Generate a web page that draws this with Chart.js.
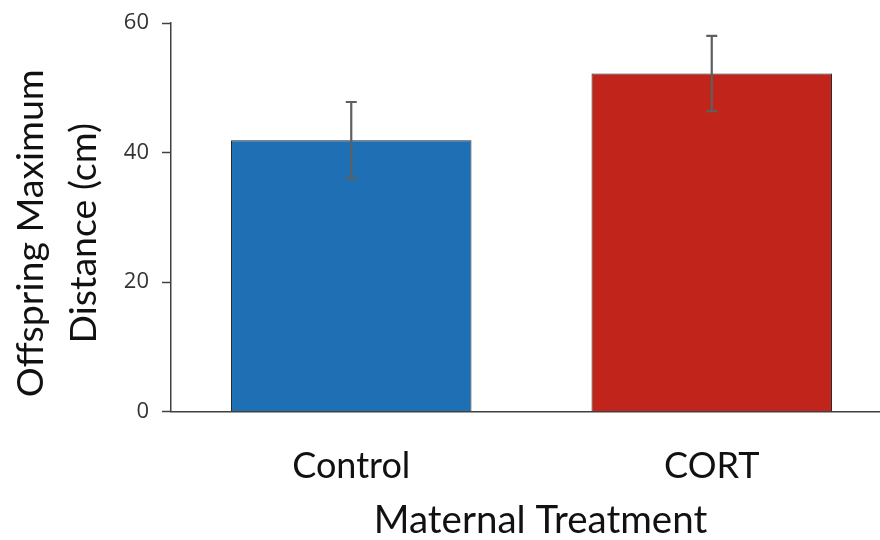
<!DOCTYPE html>
<html>
<head>
<meta charset="utf-8">
<script src="https://cdn.jsdelivr.net/npm/chart.js@4.4.1/dist/chart.umd.min.js"></script>
<style>
  html, body { margin: 0; padding: 0; background: #fff; overflow: hidden; }
  #wrap { width: 892px; height: 540px; }
</style>
</head>
<body>
<div id="wrap"><canvas id="chart"></canvas></div>
<script>
// --- donnees ---
const categories = ['Control', 'CORT'];
const moyennes = [41.9, 52.2];
const erreurs = [5.9, 5.8];
const couleurs = ['#1f6fb4', '#c0241a'];
const yTicks = [0, 20, 40, 60];
const yTitre = ['Offspring Maximum', 'Distance (cm)'];
const xTitre = 'Maternal Treatment';

// barres d'erreur
const errorBars = {
  id: 'errorBars',
  afterDatasetsDraw(chart) {
    const ctx = chart.ctx;
    const y = chart.scales.y;
    const meta = chart.getDatasetMeta(0);
    ctx.save();
    ctx.strokeStyle = '#5f5f5f';
    ctx.lineWidth = 2.2;
    meta.data.forEach((bar, i) => {
      const x = bar.x;
      const hi = y.getPixelForValue(moyennes[i] + erreurs[i]);
      const lo = y.getPixelForValue(moyennes[i] - erreurs[i]);
      ctx.beginPath();
      ctx.moveTo(x, hi); ctx.lineTo(x, lo);
      ctx.moveTo(x - 5.5, hi); ctx.lineTo(x + 5.5, hi);
      ctx.moveTo(x - 5.5, lo); ctx.lineTo(x + 5.5, lo);
      ctx.stroke();
    });
    ctx.restore();
  }
};

// titres des axes
const axisTitles = {
  id: 'axisTitles',
  afterDraw(chart) {
    const ctx = chart.ctx;
    const area = chart.chartArea;
    ctx.save();
    ctx.fillStyle = '#111';
    ctx.textAlign = 'center';
    ctx.textBaseline = 'alphabetic';
    // titre Y
    ctx.font = '37.5px Lato';
    ctx.save();
    ctx.translate(0, (area.top + area.bottom) / 2 + 16);
    ctx.rotate(-Math.PI / 2);
    ctx.fillText(yTitre[0], 0, 43);
    ctx.fillText(yTitre[1], 0, 96);
    ctx.restore();
    // titre X
    ctx.font = '38.5px Lato';
    ctx.fillText(xTitre, (area.left + area.right) / 2 + 9, 533);
    ctx.restore();
  }
};

const ctx = document.getElementById('chart').getContext('2d');
new Chart(ctx, {
  type: 'bar',
  data: {
    labels: categories,
    datasets: [{
      data: moyennes,
      backgroundColor: couleurs,
      borderColor: '#262626',
      borderWidth: 1,
      categoryPercentage: 1,
      barPercentage: 0.667
    }]
  },
  options: {
    responsive: true,
    maintainAspectRatio: false,
    animation: false,
    layout: { padding: { top: 23, left: 0, right: 0, bottom: 0 } },
    plugins: { legend: { display: false }, tooltip: { enabled: false } },
    scales: {
      x: {
        grid: { display: false },
        border: { display: true, color: '#404040', width: 1.5 },
        ticks: { color: '#111', font: { family: 'Lato', size: 36 }, padding: 25 },
        afterFit(scale) { scale.height = 128.5; }
      },
      y: {
        min: 0,
        max: 60,
        afterBuildTicks(scale) { scale.ticks = yTicks.map(v => ({ value: v })); },
        grid: { drawOnChartArea: false, tickLength: 9, color: '#404040', tickWidth: 1.5 },
        border: { display: true, color: '#404040', width: 1.5 },
        ticks: { color: '#333', font: { family: 'Open Sans', size: 22, lineHeight: 0.4 }, padding: 13 },
        afterFit(scale) { scale.width = 171; }
      }
    }
  },
  plugins: [errorBars, axisTitles]
});
</script>
</body>
</html>
